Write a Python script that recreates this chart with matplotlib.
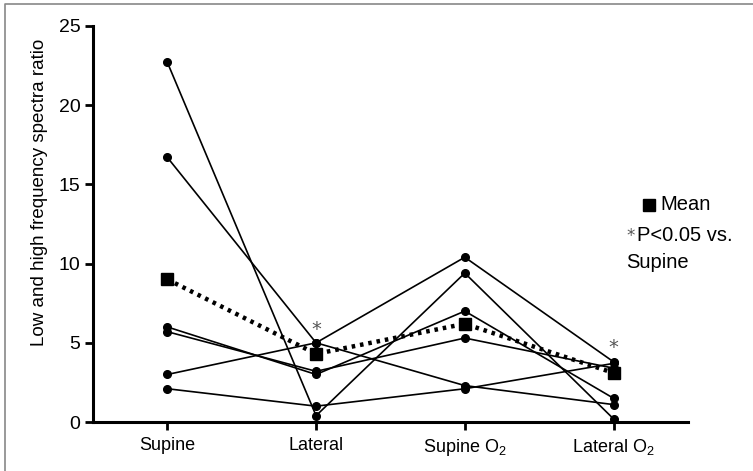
import matplotlib
matplotlib.use("Agg")
import matplotlib.pyplot as plt
from matplotlib.lines import Line2D

# ----------------------------------------------------------------------
CATEGORIES = ["Supine", "Lateral", "Supine O$_2$", "Lateral O$_2$"]

# individual subjects
SUBJ_1 = [22.7, 0.4, 9.4, 0.2]
SUBJ_2 = [16.7, 5.0, 10.4, 3.8]
SUBJ_3 = [6.0, 3.0, 7.0, 1.5]
SUBJ_4 = [5.7, 3.2, 5.3, 3.4]
SUBJ_5 = [3.0, 5.0, 2.3, 1.1]
SUBJ_6 = [2.1, 1.0, 2.1, 3.7]
MEAN = [9.0, 4.3, 6.2, 3.1]

# significance markers (category index, height)
SIG_IDX = [1, 3]
SIG_Y = [5.85, 4.7]

YTICKS = [0, 5, 10, 15, 20, 25]

plt.rcParams.update({
    "font.family": ["Liberation Sans", "DejaVu Sans"],
    "font.size": 13,
    "mathtext.fontset": "custom",
    "mathtext.rm": "Liberation Sans",
    "mathtext.it": "Liberation Sans",
})

fig = plt.figure(figsize=(7.53, 4.71), dpi=100)
ax = fig.add_axes([0.1235, 0.104, 0.79, 0.841])

x = list(range(len(CATEGORIES)))
for subj in [SUBJ_1, SUBJ_2, SUBJ_3, SUBJ_4, SUBJ_5, SUBJ_6]:
    ax.plot(x, subj, color="black", lw=1.2, marker="o", ms=5.5,
            zorder=3, clip_on=False)

ax.plot(x, MEAN, color="black", lw=3.2, linestyle=(0, (0.8, 1.1)),
        marker="s", ms=9, zorder=4, clip_on=False)

for i, y in zip(SIG_IDX, SIG_Y):
    ax.text(i, y, "*", ha="center", va="center", fontsize=14,
            color="#555555", family="DejaVu Sans", zorder=5)

ax.set_xlim(-0.5, 3.5)
ax.set_ylim(0, 25)
ax.set_xticks(x)
ax.set_xticklabels(CATEGORIES, fontsize=13)
ax.set_yticks(YTICKS)
ax.tick_params(axis="y", labelsize=14)
ax.set_ylabel("Low and high frequency spectra ratio", fontsize=13.5)
ax.yaxis.set_label_coords(-0.076, 0.58)

for side in ["top", "right"]:
    ax.spines[side].set_visible(False)
for side in ["left", "bottom"]:
    ax.spines[side].set_linewidth(2.2)
ax.tick_params(width=2, length=6, direction="out", pad=3)
ax.tick_params(axis="x", pad=5)

# legend text, placed by hand like the original
fig.add_artist(Line2D([0.8625], [0.565], marker="s", ms=9, color="black",
                      transform=fig.transFigure, linestyle="none"))
fig.text(0.877, 0.565, "Mean", va="center", ha="left", fontsize=14.5)
fig.text(0.832, 0.500, "*", va="center", ha="left", fontsize=12,
         color="#555555", family="DejaVu Sans")
fig.text(0.846, 0.500, "P<0.05 vs.", va="center", ha="left", fontsize=14.5)
fig.text(0.832, 0.443, "Supine", va="center", ha="left", fontsize=14.5)

# thin grey frame (top and left edges as in the source scan)
fig.add_artist(Line2D([0.0066, 0.0066, 1.0], [0.0, 0.992, 0.992],
                      color="#888888", lw=1.2, transform=fig.transFigure))

fig.savefig("out.png", dpi=100)
